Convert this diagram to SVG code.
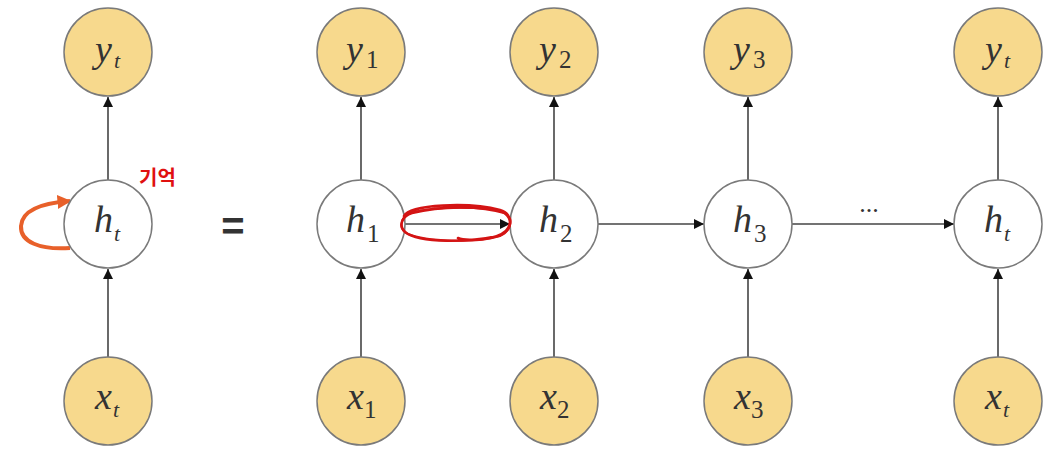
<svg xmlns="http://www.w3.org/2000/svg" width="1055" height="452" viewBox="0 0 1055 452">
<defs>
<style>
.io{fill:#F7D98D;stroke:#7a7a7a;stroke-width:1.5}
.hid{fill:#ffffff;stroke:#7a7a7a;stroke-width:1.5}
.lbl{font-family:"Liberation Serif","DejaVu Serif",serif;font-style:italic;font-size:38px;fill:#333}
.sub{font-family:"Liberation Serif","DejaVu Serif",serif;font-size:25px;fill:#333}
.subi{font-family:"Liberation Serif","DejaVu Serif",serif;font-style:italic;font-size:22px;fill:#333}
.edge{stroke:#444;stroke-width:1.6;fill:none;marker-end:url(#ah)}
</style>
<marker id="ah" viewBox="0 0 10 10" refX="10" refY="5" markerWidth="10" markerHeight="10" markerUnits="userSpaceOnUse" orient="auto">
<path d="M0,0 L10,5 L0,10 z" fill="#111"/>
</marker>
<marker id="oh" viewBox="0 0 10 10" refX="9" refY="5" markerWidth="14" markerHeight="14" markerUnits="userSpaceOnUse" orient="auto">
<path d="M0,0 L10,5 L0,10 z" fill="#E8602A"/>
</marker>
</defs>
<rect width="1055" height="452" fill="#ffffff"/>

<g id="connectors">
<line class="edge" x1="108" y1="180" x2="108" y2="97"/>
<line class="edge" x1="108" y1="357" x2="108" y2="269"/>
<line class="edge" x1="361" y1="180" x2="361" y2="97"/>
<line class="edge" x1="361" y1="357" x2="361" y2="269"/>
<line class="edge" x1="554" y1="180" x2="554" y2="97"/>
<line class="edge" x1="554" y1="357" x2="554" y2="269"/>
<line class="edge" x1="748" y1="180" x2="748" y2="97"/>
<line class="edge" x1="748" y1="357" x2="748" y2="269"/>
<line class="edge" x1="998" y1="180" x2="998" y2="97"/>
<line class="edge" x1="998" y1="357" x2="998" y2="269"/>
<line class="edge" x1="405" y1="224" x2="510" y2="224"/>
<line class="edge" x1="598" y1="224" x2="704" y2="224"/>
<line class="edge" x1="792" y1="224" x2="954" y2="224"/>
<path d="M70,248 C40,250 20,242 21,226 C22,210 42,203 70,201" fill="none" stroke="#E8602A" stroke-width="4" marker-end="url(#oh)"/>
</g>

<g id="n_yt0"><circle class="io" cx="108" cy="52" r="44"/><text class="lbl" x="95" y="62">y</text><text class="subi" x="114" y="68">t</text></g>
<g id="n_ht0"><circle class="hid" cx="108" cy="224" r="44"/><text class="lbl" x="94" y="232">h</text><text class="subi" x="114" y="241">t</text></g>
<g id="n_xt0"><circle class="io" cx="108" cy="401" r="44"/><text class="lbl" x="95" y="409">x</text><text class="subi" x="113" y="417">t</text></g>

<g id="n_y1"><circle class="io" cx="361" cy="52" r="44"/><text class="lbl" x="346" y="62">y</text><text class="sub" x="366" y="68">1</text></g>
<g id="n_h1"><circle class="hid" cx="361" cy="224" r="44"/><text class="lbl" x="346" y="232">h</text><text class="sub" x="367" y="242">1</text></g>
<g id="n_x1"><circle class="io" cx="361" cy="401" r="44"/><text class="lbl" x="347" y="409">x</text><text class="sub" x="364" y="418">1</text></g>

<g id="n_y2"><circle class="io" cx="554" cy="52" r="44"/><text class="lbl" x="539" y="62">y</text><text class="sub" x="559" y="68">2</text></g>
<g id="n_h2"><circle class="hid" cx="554" cy="224" r="44"/><text class="lbl" x="539" y="232">h</text><text class="sub" x="560" y="242">2</text></g>
<g id="n_x2"><circle class="io" cx="554" cy="401" r="44"/><text class="lbl" x="540" y="409">x</text><text class="sub" x="557" y="418">2</text></g>

<g id="n_y3"><circle class="io" cx="748" cy="52" r="44"/><text class="lbl" x="733" y="62">y</text><text class="sub" x="753" y="68">3</text></g>
<g id="n_h3"><circle class="hid" cx="748" cy="224" r="44"/><text class="lbl" x="733" y="232">h</text><text class="sub" x="754" y="242">3</text></g>
<g id="n_x3"><circle class="io" cx="748" cy="401" r="44"/><text class="lbl" x="734" y="409">x</text><text class="sub" x="751" y="418">3</text></g>

<g id="n_yt"><circle class="io" cx="998" cy="52" r="44"/><text class="lbl" x="985" y="62">y</text><text class="subi" x="1004" y="68">t</text></g>
<g id="n_ht"><circle class="hid" cx="998" cy="224" r="44"/><text class="lbl" x="984" y="232">h</text><text class="subi" x="1004" y="241">t</text></g>
<g id="n_xt"><circle class="io" cx="998" cy="401" r="44"/><text class="lbl" x="985" y="409">x</text><text class="subi" x="1003" y="417">t</text></g>

<g id="annotations">
<text x="233" y="240" font-family="Liberation Sans, Arial, sans-serif" font-size="40" font-weight="bold" fill="#333" text-anchor="middle">=</text>
<text x="869" y="212" font-family="Liberation Serif, serif" font-size="26" fill="#333" text-anchor="middle">...</text>
<text x="139" y="185" font-family="'Noto Sans CJK KR', sans-serif" font-size="20" font-weight="bold" fill="#E01010">기억</text>
<path d="M404,216 C410,204 470,202 500,210 C515,214 512,232 498,236 C470,242 420,244 405,232 C398,226 402,216 412,213 C440,206 480,205 505,213 C516,220 510,234 490,238 C470,241 462,240 458,238" fill="none" stroke="#D41414" stroke-width="2.6" stroke-linecap="round"/>
<path d="M402,222 C402,208 450,206 490,209 C512,211 517,228 500,236 C475,244 425,241 408,234 C401,230 401,225 402,222" fill="none" stroke="#D41414" stroke-width="2" stroke-linecap="round"/>
</g>
</svg>
